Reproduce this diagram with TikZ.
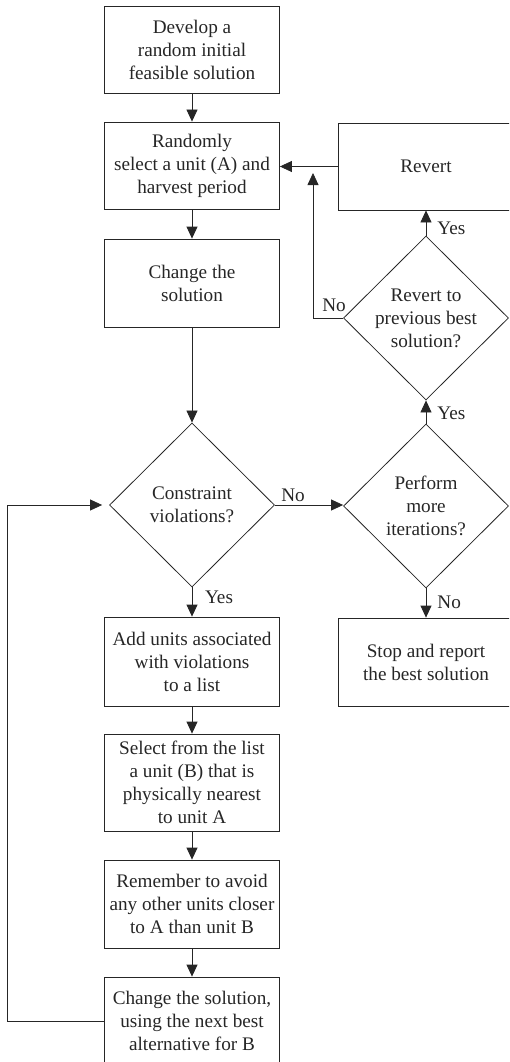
\documentclass[tikz,border=0pt]{standalone}
\usepackage{fontspec}
\setmainfont{Liberation Serif}
\usetikzlibrary{shapes.geometric,arrows.meta}
\newcommand\figfont{\fontsize{19.2}{23}\selectfont}
\begin{document}
\begin{tikzpicture}[x=1pt,y=-1pt,
  line width=0.8pt, color=black!85,
  every node/.style={font=\figfont},
  proc/.style={draw, rectangle, align=center, minimum width=175pt, inner sep=0pt},
  dec/.style={draw, diamond, align=center, minimum width=165pt, minimum height=164pt, inner sep=0pt},
  flow/.style={-{Triangle[length=12pt,width=11pt]}},
  lbl/.style={inner sep=0pt}]
\useasboundingbox (0,0) rectangle (509,1062);
\clip (0,0) rectangle (509,1062);
% main column
\node[proc, minimum height=87pt] (b1) at (192,49.5) {Develop a\\random initial\\feasible solution};
\node[proc, minimum height=87pt] (b2) at (192,165.5) {Randomly\\select a unit (A) and\\harvest period};
\node[proc, minimum height=88pt] (b3) at (192,283) {Change the\\solution};
\node[dec] (d1) at (192,505) {Constraint\\violations?};
\node[proc, minimum height=89pt] (b4) at (192,661.5) {Add units associated\\with violations\\to a list};
\node[proc, minimum height=97pt] (b5) at (192,782.5) {Select from the list\\a unit (B) that is\\physically nearest\\to unit A};
\node[proc, minimum height=88pt] (b6) at (192,904) {Remember to avoid\\any other units closer\\to A than unit B};
\node[proc, minimum height=88pt] (b7) at (192,1021) {Change the solution,\\using the next best\\alternative for B};
% right column
\node[proc, minimum width=176pt, minimum height=87pt] (rv) at (426,166.5) {Revert};
\node[dec] (d2) at (426,318) {Revert to\\previous best\\solution?};
\node[dec] (d3) at (426,506) {Perform\\more\\iterations?};
\node[proc, minimum width=176pt, minimum height=88pt] (st) at (426,662) {Stop and report\\the best solution};
% connectors
\draw[flow] (b1) -- (b2);
\draw[flow] (b2) -- (b3);
\draw[flow] (b3) -- (d1);
\draw[flow] (d1) -- (b4);
\draw[flow] (b4) -- (b5);
\draw[flow] (b5) -- (b6);
\draw[flow] (b6) -- (b7);
\draw[flow] (d1.east) -- (d1.east -| d3.west);
\draw[flow] (d3) -- (d2);
\draw[flow] (d2) -- (rv);
\draw[flow] (d3) -- (st);
\draw[flow] (rv.west) -- (rv.west -| b2.east);
\coordinate (nT) at (313,173);
\draw[flow] (d2.west) -| (nT);
\coordinate (lc) at (7,505);
\coordinate (lt) at ([xshift=-7pt]d1.west);
\draw[flow] (b7.west) -| (lc) -- (lt);
% labels
\node[lbl, anchor=west] (y1) at (437,228) {Yes};
\node[lbl, anchor=west] (y2) at (437,413) {Yes};
\node[lbl] (n1) at (334,305) {No};
\node[lbl] (n2) at (293,495) {No};
\node[lbl] (y3) at (219,597) {Yes};
\node[lbl, anchor=west] (n3) at (437,602) {No};
\end{tikzpicture}
\end{document}
